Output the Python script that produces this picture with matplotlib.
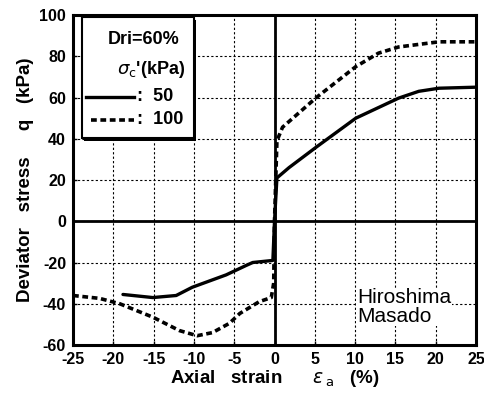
import matplotlib
matplotlib.use("Agg")
import matplotlib.pyplot as plt
from matplotlib.patches import Rectangle
from matplotlib.lines import Line2D

plt.rcParams['font.family'] = ['Liberation Sans', 'DejaVu Sans']
plt.rcParams['axes.unicode_minus'] = False

# Confining pressure 50 kPa
strain_50 = [-18.8, -15.1, -12.2, -10.2, -6.0, -3.5, -2.7, -0.2, 0.0, 0.3, 1.8, 5.2, 10.1, 15.4, 17.9, 20.4, 25.0]
q_50 = [-35.5, -37.0, -36.0, -32.0, -26.0, -21.4, -20.0, -19.0, 0.0, 21.0, 26.0, 36.0, 50.0, 59.7, 63.0, 64.5, 65.0]

# Confining pressure 100 kPa
strain_100 = [-25.0, -21.7, -19.2, -15.1, -11.8, -9.6, -7.7, -5.6, -4.3, -1.9, -0.4, -0.1, 0.0, 0.3, 1.0, 5.2, 10.1, 12.9, 15.4, 20.4, 25.0]
q_100 = [-36.0, -37.4, -40.0, -46.5, -53.0, -55.5, -54.0, -49.5, -44.7, -39.0, -37.0, -30.0, 0.0, 39.0, 45.6, 60.0, 75.0, 81.5, 84.5, 87.0, 87.0]

x_ticks = [-25, -20, -15, -10, -5, 0, 5, 10, 15, 20, 25]
y_ticks = [-60, -40, -20, 0, 20, 40, 60, 80, 100]

fig = plt.figure(figsize=(4.85, 4.0), dpi=100)
ax = fig.add_axes([73/485, 1 - 345/400, 403/485, 330/400])

ax.set_xlim(-25, 25)
ax.set_ylim(-60, 100)
ax.set_xticks(x_ticks)
ax.set_yticks(y_ticks)
ax.grid(True, color='black', linestyle=(0, (2, 2)), linewidth=0.8)
ax.axhline(0, color='black', lw=2.0)
ax.axvline(0, color='black', lw=2.0)

ax.plot(strain_50, q_50, color='black', lw=2.4, solid_capstyle='round')
ax.plot(strain_100, q_100, color='black', lw=2.6, linestyle=(0, (1.6, 1.0)))

for s in ax.spines.values():
    s.set_linewidth(2.2)
ax.tick_params(direction='in', length=3, width=1, labelsize=11.5, pad=5)
for lbl in ax.get_xticklabels() + ax.get_yticklabels():
    lbl.set_fontweight('bold')

ax.set_xlabel(r'Axial   strain      $\epsilon_{\,\mathrm{a}}$   (%)', fontsize=13.5, fontweight='bold', labelpad=1)
ax.set_ylabel('Deviator   stress     q   (kPa)', fontsize=13.5, fontweight='bold', labelpad=4)

# Legend box with drop shadow
tr = ax.transAxes
x0, x1 = 0.022, 0.30
y0, y1 = 0.627, 0.994
ax.add_patch(Rectangle((x0 + 0.006, y0 - 0.008), x1 - x0, y1 - y0, transform=tr,
                       facecolor='black', edgecolor='none', zorder=5))
ax.add_patch(Rectangle((x0, y0), x1 - x0, y1 - y0, transform=tr,
                       facecolor='white', edgecolor='black', lw=1.5, zorder=6))
ax.text(0.265, 0.925, 'Dri=60%', transform=tr, ha='right', va='center',
        fontsize=13, fontweight='bold', zorder=7)
ax.text(0.278, 0.835, r"$\sigma_{\mathrm{c}}$'(kPa)", transform=tr, ha='right', va='center',
        fontsize=13, fontweight='bold', zorder=7)
ax.add_line(Line2D([0.032, 0.152], [0.753, 0.753], transform=tr, color='black', lw=2.4, zorder=7))
ax.text(0.158, 0.753, ':  50', transform=tr, ha='left', va='center',
        fontsize=13, fontweight='bold', zorder=7)
ax.add_line(Line2D([0.045, 0.152], [0.683, 0.683], transform=tr, color='black', lw=2.6,
                   linestyle=(0, (1.6, 1.0)), zorder=7))
ax.text(0.158, 0.683, ':  100', transform=tr, ha='left', va='center',
        fontsize=13, fontweight='bold', zorder=7)

ax.text(0.705, 0.115, 'Hiroshima\nMasado', transform=tr, ha='left', va='center',
        fontsize=15, linespacing=0.95, zorder=7,
        bbox=dict(facecolor='white', edgecolor='none', pad=0.5))

fig.savefig('out.png', dpi=100)
